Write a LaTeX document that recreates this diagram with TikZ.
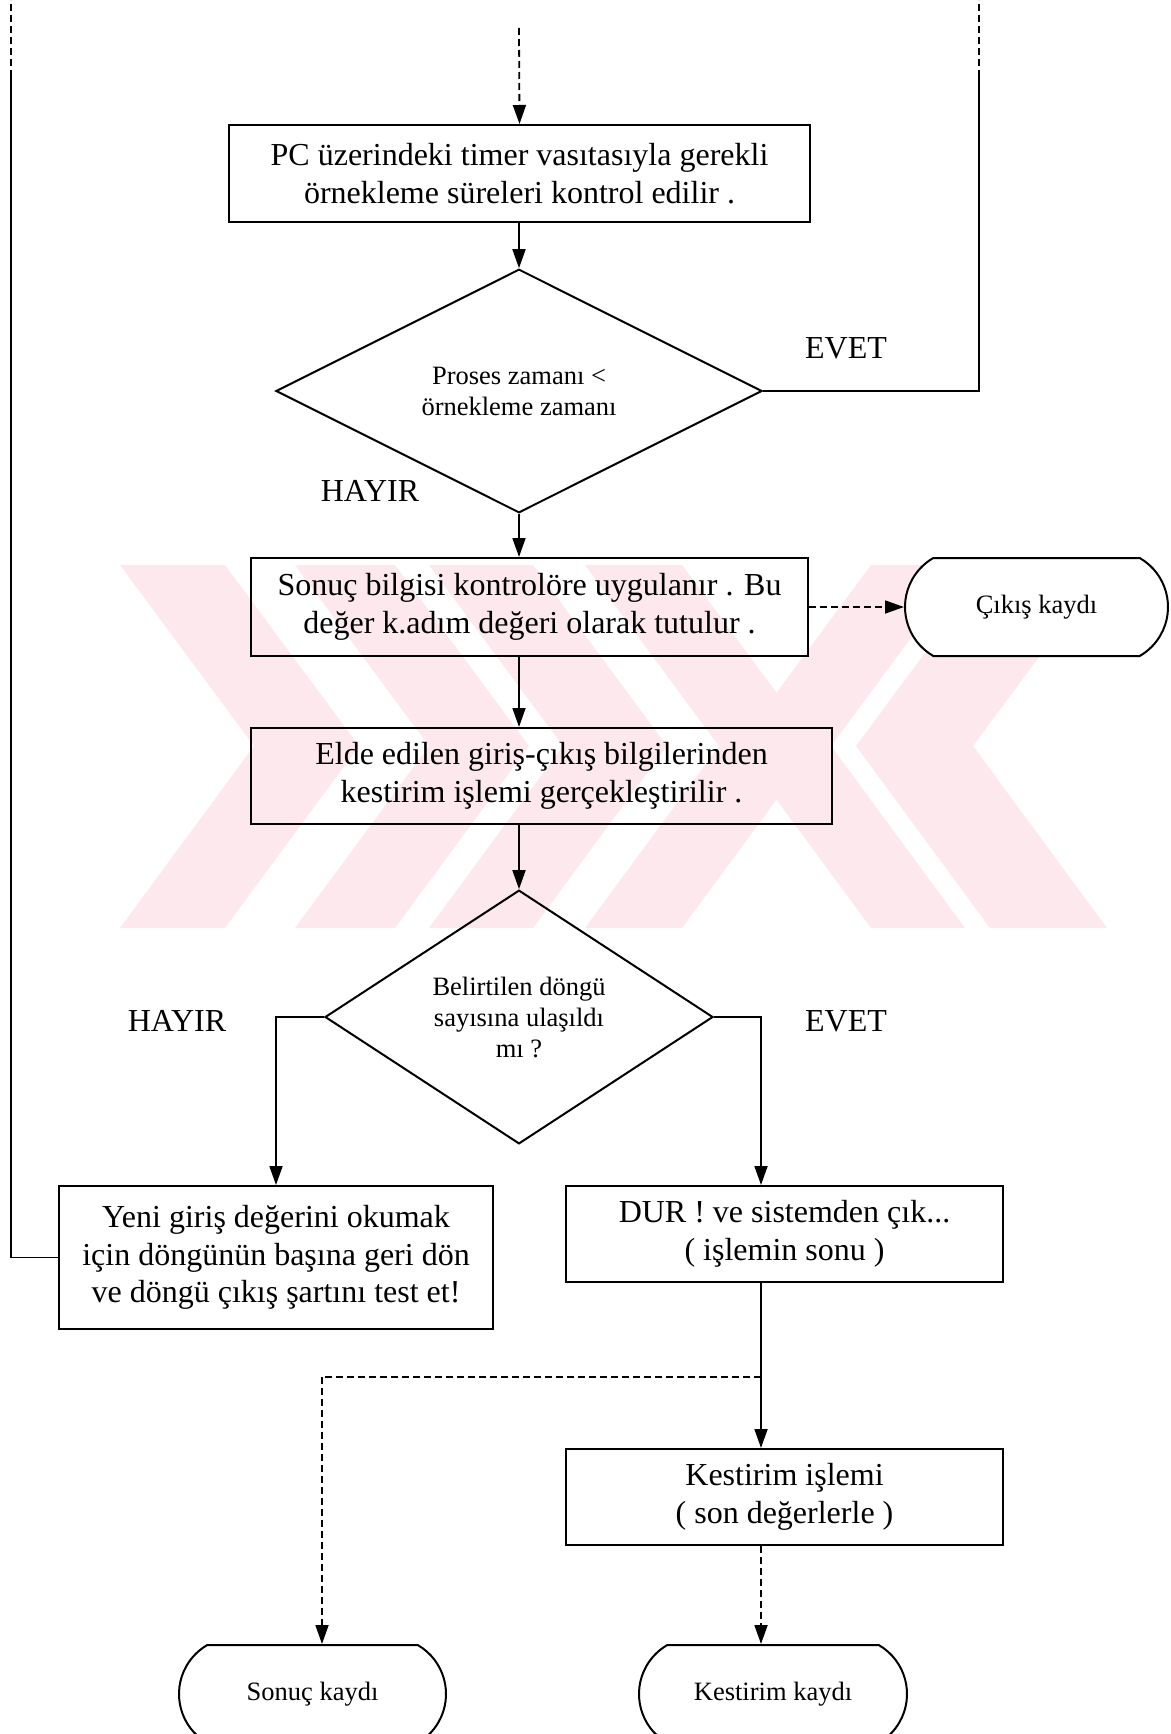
\documentclass[tikz,border=0pt]{standalone}
\usepackage{fontspec}
\setmainfont{Liberation Serif}
\usetikzlibrary{arrows.meta,shapes.geometric,shapes.misc,calc}
\definecolor{wm}{RGB}{253,233,237}
\tikzset{
  boxtxt/.style={font=\fontsize{32}{37.6}\selectfont},
  smalltxt/.style={font=\fontsize{26.5}{31}\selectfont},
  procbox/.style={draw, line width=2pt, rectangle, inner sep=0pt, align=center, boxtxt},
  decision/.style={draw, line width=2pt, diamond, inner sep=0pt, align=center, smalltxt},
  termbox/.style={draw, line width=2pt, rounded rectangle, rounded rectangle arc length=120, inner sep=0pt, align=center, smalltxt},
  lbl/.style={boxtxt, inner sep=0pt},
  conn/.style={line width=1.8pt},
  arr/.style={line width=1.8pt, -{Triangle[length=19pt,width=13pt]}},
  dsh/.style={dash pattern=on 7pt off 4pt},
}
\begin{document}
\begin{tikzpicture}[x=1pt,y=-1pt]
\useasboundingbox (0,0) rectangle (1170,1734);
\fill[white] (0,0) rectangle (1170,1734);
% watermark
\foreach \a/\w in {120/105,295/100,429/104,585/97} {
  \fill[wm] (\a,565) -- (\a+134,746) -- (\a,928) -- (\a+\w,928) -- (\a+\w+134,746) -- (\a+\w,565) -- cycle;
}
\foreach \b/\w in {1107/117,965/94} {
  \fill[wm] (\b,565) -- (\b-134,746) -- (\b,928) -- (\b-\w,928) -- (\b-\w-134,746) -- (\b-\w,565) -- cycle;
}
% nodes
\node[procbox, minimum width=581pt, minimum height=97pt] (b1) at (519.5,173.5)
  {PC üzerindeki timer vasıtasıyla gerekli\\örnekleme süreleri kontrol edilir .};
\node[decision, minimum width=486pt, minimum height=240pt] (d1) at (519,391)
  {Proses zamanı <\\örnekleme zamanı};
\node[procbox, minimum width=557pt, minimum height=98pt] (b2) at (529.5,607)
  {Sonuç bilgisi kontrolöre uygulanır . Bu\\değer k.adım değeri olarak tutulur .};
\node[termbox, fill=white, minimum width=263pt, minimum height=98pt] (cik) at (1036.5,607) {Çıkış kaydı};
\node[procbox, minimum width=581pt, minimum height=96pt] (b3) at (541.5,776)
  {Elde edilen giriş-çıkış bilgilerinden\\kestirim işlemi gerçekleştirilir .};
\node[decision, minimum width=388pt, minimum height=240pt] (d2) at (519,1017)
  {Belirtilen döngü\\sayısına ulaşıldı\\mı ?};
\node[procbox, minimum width=434pt, minimum height=143pt] (b4) at (276,1257.5)
  {Yeni giriş değerini okumak\\için döngünün başına geri dön\\ve döngü çıkış şartını test et!};
\node[procbox, minimum width=437pt, minimum height=96pt] (b5) at (784.5,1234)
  {DUR ! ve sistemden çık...\\( işlemin sonu )};
\node[procbox, minimum width=437pt, minimum height=96pt] (b6) at (784.5,1497)
  {Kestirim işlemi\\( son değerlerle )};
\node[termbox, minimum width=267pt, minimum height=98pt] (son) at (312.5,1694) {Sonuç kaydı};
\node[termbox, minimum width=268pt, minimum height=98pt] (kes) at (773,1694) {Kestirim kaydı};
% labels
\node[lbl] (evet1) at (846,348) {EVET};
\node[lbl] (hayir1) at (370,491) {HAYIR};
\node[lbl] (hayir2) at (177,1021) {HAYIR};
\node[lbl] (evet2) at (846,1021) {EVET};
% coordinates
\coordinate (topin) at (519,28);
\coordinate (rtop) at (979,0);
\coordinate (rmid) at (979,77);
\coordinate (ltop) at (11,0);
\coordinate (lmid) at (11,77);
\coordinate (rx) at (761,0);
\coordinate (split) at (761,1377);
\coordinate (sonx) at (322,1377);
% connectors
\draw[arr,dsh] (topin) -- (b1.north);
\draw[arr] (d1.north |- b1.south) -- (d1.north);
\draw[conn] (d1.east) -| (rmid);
\draw[conn,dsh] (rmid) -- (rtop);
\draw[arr] (d1.south) -- (d1.south |- b2.north);
\draw[arr,dsh] (b2.east) -- (cik.west);
\draw[arr] (d1.south |- b2.south) -- (d1.south |- b3.north);
\draw[arr] (d1.south |- b3.south) -- (d2.north);
\draw[arr] (d2.west) -| (b4.north);
\draw[arr] (d2.east) -| (rx |- b5.north);
\draw[conn] (b4.west) -| (lmid);
\draw[conn,dsh] (lmid) -- (ltop);
\draw[conn] (rx |- b5.south) -- (split);
\draw[arr] (split) -- (split |- b6.north);
\draw[conn,dsh] (split) -- (sonx);
\draw[arr,dsh] (sonx) -- (sonx |- son.north);
\draw[arr,dsh] (split |- b6.south) -- (split |- kes.north);
\end{tikzpicture}
\end{document}
